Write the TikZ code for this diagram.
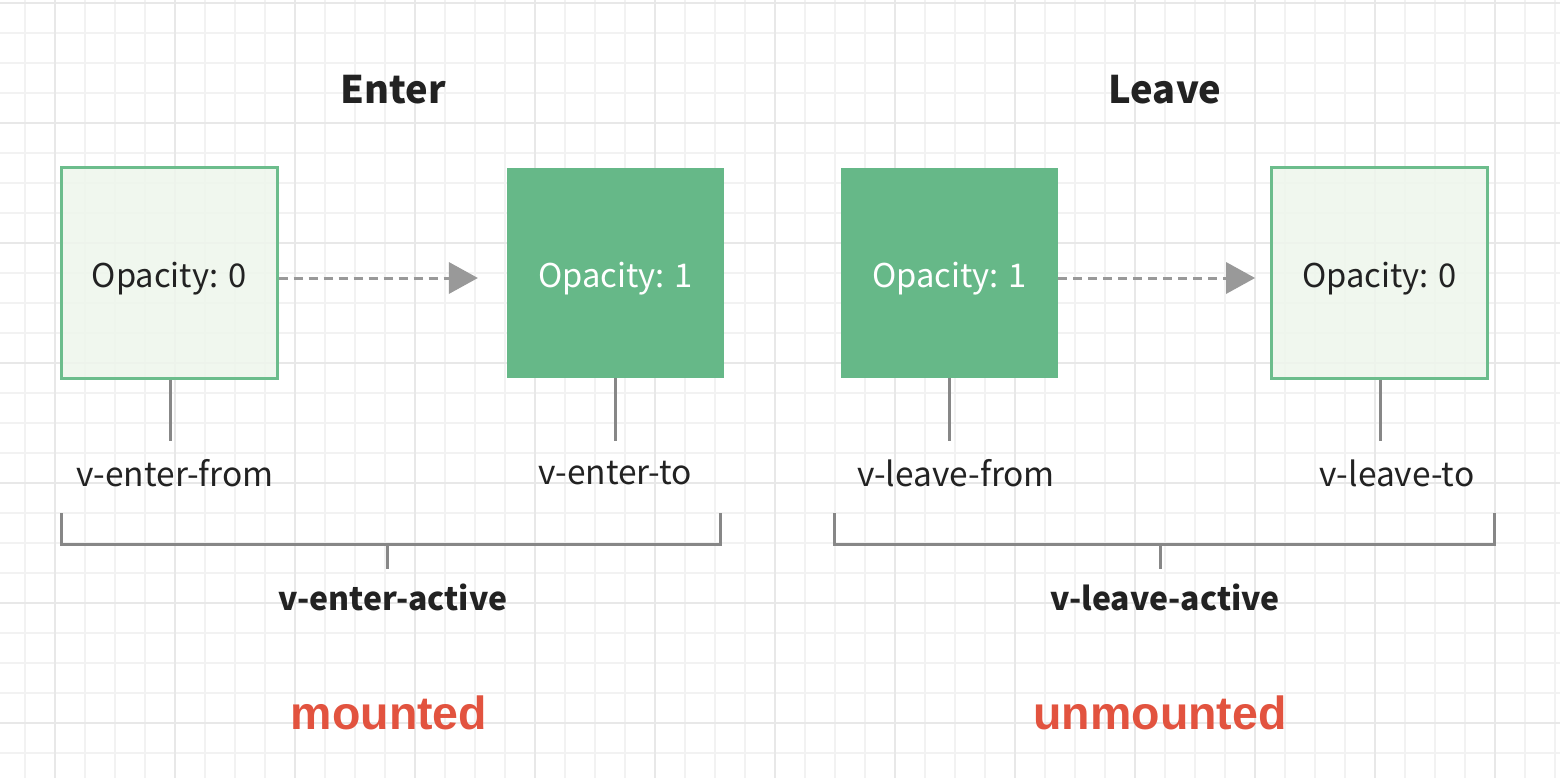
\documentclass[tikz,border=0pt]{standalone}
\usepackage{fontspec}
\usetikzlibrary{arrows.meta}
\newfontfamily\srcfont{Noto Sans CJK SC}
\newfontfamily\redfont{Liberation Sans}
\definecolor{gridminor}{HTML}{F2F2F2}
\definecolor{gridmajor}{HTML}{E8E8E8}
\definecolor{lightfill}{HTML}{EEF6EC}
\definecolor{greenedge}{HTML}{6CBD8C}
\definecolor{greenfill}{HTML}{66B888}
\definecolor{linegray}{HTML}{878787}
\definecolor{arrowgray}{HTML}{999999}
\definecolor{textdark}{HTML}{222222}
\definecolor{redtext}{HTML}{E2533F}
\tikzset{
  lightbox/.style={draw=greenedge, line width=3pt, fill=lightfill, fill opacity=0.85, text opacity=1,
    minimum width=216pt, minimum height=210pt, inner sep=0pt, text=textdark,
    text height=34pt, text depth=6pt,
    font=\srcfont\fontsize{32.7}{40}\selectfont},
  solidbox/.style={fill=greenfill, minimum width=217pt, minimum height=210pt, inner sep=0pt,
    text=white, text height=34pt, text depth=6pt,
    font=\srcfont\fontsize{32.7}{40}\selectfont},
  flow/.style={draw=arrowgray, line width=3pt, dash pattern=on 9pt off 6pt,
    -{Triangle[length=29pt,width=32pt,fill=arrowgray,line width=0pt]}},
  tick/.style={draw=linegray, line width=3pt},
  label/.style={text=textdark, inner sep=0pt, font=\srcfont\fontsize{33.5}{40}\selectfont},
  title/.style={text=textdark, inner sep=0pt, font=\srcfont\bfseries\fontsize{38}{44}\selectfont},
  activelabel/.style={text=textdark, inner sep=0pt, font=\srcfont\bfseries\fontsize{32}{38}\selectfont},
  stagelabel/.style={text=redtext, inner sep=0pt, font=\redfont\bfseries\fontsize{46.5}{52}\selectfont},
}
\begin{document}
\begin{tikzpicture}[x=1pt,y=-1pt]
\useasboundingbox (0,0) rectangle (1560,778);
\fill[white] (0,0) rectangle (1560,778);
% grid
\foreach \x in {25,55,...,1555} \draw[gridminor, line width=2pt] (\x,0) -- (\x,778);
\foreach \y in {3,33,...,778} \draw[gridminor, line width=2pt] (0,\y) -- (1560,\y);
\foreach \x in {55,175,...,1555} \draw[gridmajor, line width=2pt] (\x,0) -- (\x,778);
\foreach \y in {3,123,...,778} \draw[gridmajor, line width=2pt] (0,\y) -- (1560,\y);

% titles
\node[title] (tenter) at (393,90) {Enter};
\node[title] (tleave) at (1165,90) {Leave};

% boxes
\node[lightbox] (b1) at (169,273) {Opacity: 0};
\node[solidbox] (b2) at (615.5,273) {Opacity: 1};
\node[solidbox] (b3) at (949.5,273) {Opacity: 1};
\node[lightbox] (b4) at (1379.5,273) {Opacity: 0};

% arrows
\draw[flow, shorten >=29pt] ([yshift=-5pt]b1.east) -- ([yshift=-5pt]b2.west);
\draw[flow, shorten >=15pt] ([yshift=-5pt]b3.east) -- ([yshift=-5pt]b4.west);

% labels
\node[label] (l1) at (175,473) {v-enter-from};
\node[label] (l2) at (615,473) {v-enter-to};
\node[label] (l3) at (956,473) {v-leave-from};
\node[label] (l4) at (1397,473) {v-leave-to};

% ticks
\coordinate (k1) at (170,441);
\coordinate (k2) at (615,441);
\coordinate (k3) at (949,441);
\coordinate (k4) at (1380,441);
\draw[tick] (b1.south -| k1) -- (k1);
\draw[tick] (b2.south -| k2) -- (k2);
\draw[tick] (b3.south -| k3) -- (k3);
\draw[tick] (b4.south -| k4) -- (k4);

% brackets
\coordinate (ea) at (61,513);
\coordinate (eb) at (720,513);
\coordinate (em) at (387,569);
\draw[tick] (ea) -- (61,544) -- (720,544) -- (eb);
\draw[tick] (387,544) -- (em);
\coordinate (la) at (834,513);
\coordinate (lb) at (1494,513);
\coordinate (lm) at (1160,569);
\draw[tick] (la) -- (834,544) -- (1494,544) -- (lb);
\draw[tick] (1160,544) -- (lm);

\node[activelabel] (aenter) at (393,597) {v-enter-active};
\node[activelabel] (aleave) at (1165,597) {v-leave-active};

\node[stagelabel] (mounted) at (389,713) {mounted};
\node[stagelabel] (unmounted) at (1160,713) {unmounted};
\end{tikzpicture}
\end{document}
